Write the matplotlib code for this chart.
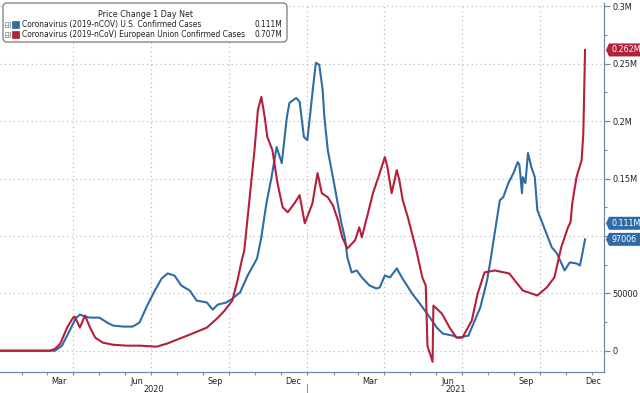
import matplotlib
matplotlib.use('Agg')
import matplotlib.pyplot as plt
import matplotlib.dates as mdates
from matplotlib.patches import FancyBboxPatch, Rectangle, Polygon
from matplotlib.lines import Line2D
from matplotlib.transforms import blended_transform_factory, IdentityTransform
from matplotlib import font_manager
from matplotlib.font_manager import FontProperties
import pandas as pd

# ---------------- data ----------------
us_dates = ["2020-01-05", "2020-03-11", "2020-03-19", "2020-03-28", "2020-04-04", "2020-04-09",
            "2020-04-15", "2020-04-21", "2020-05-02", "2020-05-11", "2020-05-18", "2020-05-30",
            "2020-06-10", "2020-06-18", "2020-06-27", "2020-07-06", "2020-07-14", "2020-07-21",
            "2020-07-29", "2020-08-06", "2020-08-16", "2020-08-24", "2020-09-05", "2020-09-12",
            "2020-09-18", "2020-09-28", "2020-10-05", "2020-10-14", "2020-10-23", "2020-11-03",
            "2020-11-08", "2020-11-14", "2020-11-20", "2020-11-26", "2020-12-02", "2020-12-08",
            "2020-12-11", "2020-12-19", "2020-12-23", "2020-12-28", "2021-01-01", "2021-01-04",
            "2021-01-07", "2021-01-11", "2021-01-15", "2021-01-19", "2021-01-21", "2021-01-25",
            "2021-01-31", "2021-02-05", "2021-02-10", "2021-02-14", "2021-02-17", "2021-02-22",
            "2021-02-28", "2021-03-06", "2021-03-15", "2021-03-23", "2021-03-27", "2021-04-02",
            "2021-04-08", "2021-04-16", "2021-04-22", "2021-05-04", "2021-05-13", "2021-05-25",
            "2021-06-02", "2021-06-09", "2021-06-21", "2021-06-27", "2021-07-09", "2021-07-15",
            "2021-07-23", "2021-07-31", "2021-08-04", "2021-08-10", "2021-08-15", "2021-08-19",
            "2021-08-25", "2021-08-31", "2021-09-05", "2021-09-07", "2021-09-10", "2021-09-11",
            "2021-09-14", "2021-09-17", "2021-09-21", "2021-09-25", "2021-09-28", "2021-10-04",
            "2021-10-15", "2021-10-21", "2021-10-30", "2021-11-05", "2021-11-13", "2021-11-17",
            "2021-11-19", "2021-11-23"]
us_cases = [0, 0, 4400, 17500, 28000, 31500,
            29700, 28800, 28800, 24500, 21900, 21000,
            21000, 24500, 39300, 52400, 62900, 67300,
            65500, 56800, 52400, 43700, 42000, 35800,
            40200, 42000, 45400, 50700, 65500, 80400,
            98800, 128500, 151200, 177400, 163400, 203600,
            215900, 220200, 216800, 186200, 183500, 203600,
            224600, 250800, 249100, 227200, 203600, 174800,
            151200, 131100, 111000, 98800, 81300, 68200,
            69900, 63800, 56800, 54200, 55100, 65500,
            63800, 71700, 63800, 49800, 41100, 28800,
            20100, 14900, 13100, 11400, 13100, 23600,
            37600, 61200, 78700, 107500, 131100, 133700,
            146000, 154700, 164300, 161700, 137200, 151200,
            146000, 172200, 159900, 151200, 122400, 111000,
            90000, 84800, 69900, 76900, 76000, 74300,
            81300, 97006]

eu_dates = ["2020-01-05", "2020-03-05", "2020-03-11", "2020-03-17", "2020-03-25", "2020-04-01",
            "2020-04-03", "2020-04-09", "2020-04-15", "2020-04-21", "2020-04-27", "2020-05-06",
            "2020-05-18", "2020-06-03", "2020-06-18", "2020-07-08", "2020-07-20", "2020-08-04",
            "2020-08-19", "2020-09-05", "2020-09-17", "2020-09-26", "2020-10-05", "2020-10-11",
            "2020-10-16", "2020-10-19", "2020-10-25", "2020-10-31", "2020-11-04", "2020-11-08",
            "2020-11-12", "2020-11-15", "2020-11-21", "2020-11-27", "2020-12-03", "2020-12-09",
            "2020-12-17", "2020-12-23", "2020-12-29", "2021-01-04", "2021-01-07", "2021-01-13",
            "2021-01-18", "2021-01-25", "2021-01-31", "2021-02-06", "2021-02-11", "2021-02-17",
            "2021-02-26", "2021-03-03", "2021-03-06", "2021-03-12", "2021-03-19", "2021-03-27",
            "2021-04-02", "2021-04-05", "2021-04-10", "2021-04-16", "2021-04-19", "2021-04-23",
            "2021-04-29", "2021-05-09", "2021-05-16", "2021-05-20", "2021-05-22", "2021-05-28",
            "2021-05-29", "2021-06-08", "2021-06-17", "2021-06-25", "2021-07-02", "2021-07-13",
            "2021-07-20", "2021-07-28", "2021-08-09", "2021-08-26", "2021-09-11", "2021-09-28",
            "2021-10-09", "2021-10-18", "2021-10-26", "2021-11-03", "2021-11-06", "2021-11-08",
            "2021-11-13", "2021-11-19", "2021-11-21", "2021-11-23"]
eu_cases = [0, 0, 1700, 6100, 20100, 28800,
            29700, 20100, 30600, 20100, 11400, 7000,
            5200, 4400, 4400, 3500, 6100, 10500,
            14900, 20100, 28000, 35000, 43700, 61200,
            78700, 87400, 131100, 174800, 209800, 221100,
            203600, 186200, 174800, 146000, 125000, 120600,
            128500, 135500, 111000, 122400, 128500, 154700,
            137200, 133700, 126700, 113600, 98800, 89100,
            96100, 107500, 98800, 116200, 137200, 154700,
            168700, 159900, 137200, 157300, 148600, 131100,
            116200, 87400, 63800, 56800, 4400, -9600,
            39300, 32300, 20100, 11400, 11400, 26200,
            49800, 68200, 69900, 67300, 52400, 48100,
            55100, 63800, 90000, 107500, 112000, 128500,
            151200, 166100, 189700, 262000]

legend_title = "Price Change 1 Day Net"
series_names = ["Coronavirus (2019-nCOV) U.S. Confirmed Cases",
                "Coronavirus (2019-nCoV) European Union Confirmed Cases"]
legend_values = ["0.111M", "0.707M"]
tag_texts = ["0.262M", "0.111M", "97006"]
tag_values = [262000, 111000, 97006]
y_ticks = [0, 50000, 100000, 150000, 200000, 250000, 300000]
y_tick_labels = ["0", "50000", "", "0.15M", "0.2M", "0.25M", "0.3M"]   # 0.1M hidden behind tags
month_labels = ["Mar", "Jun", "Sep", "Dec", "Mar", "Jun", "Sep", "Dec"]
month_label_dates = ["2020-03-15", "2020-06-15", "2020-09-15", "2020-12-15",
                     "2021-03-15", "2021-06-15", "2021-09-15", "2021-12-03"]
year_labels = ["2020", "2021"]

# ---------------- style ----------------
BLUE = "#2f6ba5"
RED = "#b3203a"
AXIS = "#6f8aa6"
GRID = "#b4b4b4"
TXT = "#222222"
FS = 6.4

# find a condensed / narrow font file if available
cond_path = None
for f in font_manager.fontManager.ttflist:
    fn = f.fname.lower()
    if ("condensed" in fn or "narrow" in fn) and "bold" not in fn and "oblique" not in fn \
            and "italic" not in fn and "light" not in fn and "semi" not in fn and "extra" not in fn:
        if cond_path is None or "dejavusanscondensed" in fn.replace("-", ""):
            cond_path = f.fname


def fp(size):
    if cond_path:
        return FontProperties(fname=cond_path, size=size)
    return FontProperties(family="DejaVu Sans", size=size * 0.85)


W, H = 640, 393
fig = plt.figure(figsize=(6.4, 3.93), dpi=100)
ax_l, ax_r, ax_t, ax_b = 0, 604, 3, 372
ax = fig.add_axes([ax_l / W, 1 - ax_b / H, (ax_r - ax_l) / W, (ax_b - ax_t) / H])

us_x = pd.to_datetime(us_dates)
eu_x = pd.to_datetime(eu_dates)
ax.plot(us_x, us_cases, color=BLUE, lw=1.5, zorder=3, solid_joinstyle='round')
ax.plot(eu_x, eu_cases, color=RED, lw=1.5, zorder=4, solid_joinstyle='round')

ax.set_xlim(pd.Timestamp("2020-01-06 06:00"), pd.Timestamp("2021-12-15 06:00"))
ax.set_ylim(-18550, 302900)

# grid
for v in y_ticks:
    ax.axhline(v, color=GRID, lw=0.8, ls=(0, (1, 3)), zorder=1)
for d in ["2020-04-01", "2020-07-01", "2020-10-01", "2021-01-01",
          "2021-04-01", "2021-07-01", "2021-10-01"]:
    ax.axvline(pd.Timestamp(d), color=GRID, lw=0.8, ls=(0, (1, 3)), zorder=1)

# spines
for s in ['left', 'top']:
    ax.spines[s].set_visible(False)
for s in ['right', 'bottom']:
    ax.spines[s].set_color(AXIS)
    ax.spines[s].set_linewidth(0.9)

# y axis on right
ax.yaxis.tick_right()
ax.set_yticks(y_ticks)
ax.set_yticklabels(y_tick_labels)
ax.yaxis.set_minor_locator(matplotlib.ticker.MultipleLocator(25000))
ax.tick_params(axis='y', which='major', direction='out', length=4, width=0.9,
               color=AXIS, labelcolor=TXT, pad=2)
ax.tick_params(axis='y', which='minor', direction='out', length=2, width=0.8, color=AXIS)
ax.tick_params(axis='y', left=False, labelleft=False)
for lab in ax.get_yticklabels():
    lab.set_fontproperties(fp(FS + 0.2))

# x axis
ax.xaxis.set_minor_locator(mdates.MonthLocator())
ax.set_xticks(pd.to_datetime(month_label_dates))
ax.set_xticklabels(month_labels)
ax.tick_params(axis='x', which='major', length=0, labelcolor=TXT, pad=3.5)
ax.tick_params(axis='x', which='minor', direction='out', length=2.5, width=0.8, color=AXIS)
for lab in ax.get_xticklabels():
    lab.set_fontproperties(fp(FS + 0.2))

# year labels and separator
trans = blended_transform_factory(ax.transData, fig.transFigure)
x0, x1 = ax.get_xlim()
sep = mdates.date2num(pd.Timestamp("2021-01-01"))
ax.text((x0 + sep) / 2, 1 - 389 / H, year_labels[0], transform=trans, ha='center', va='center',
        fontproperties=fp(FS + 0.2), color=TXT)
ax.text((sep + x1) / 2, 1 - 389 / H, year_labels[1], transform=trans, ha='center', va='center',
        fontproperties=fp(FS + 0.2), color=TXT)
ax.plot([sep, sep], [1 - 384 / H, 0], transform=trans, color="#999999", lw=0.8, clip_on=False)

ax.set_facecolor('white')

# last value tags (pixel coordinates for the box shape)
idt = IdentityTransform()
tag_colors = [RED, BLUE, BLUE]
for t, v, c in zip(tag_texts, tag_values, tag_colors):
    ydisp = ax.transData.transform((0, v))[1]
    pts = [(606, ydisp), (609, ydisp + 6.5), (641, ydisp + 6.5),
           (641, ydisp - 6.5), (609, ydisp - 6.5)]
    fig.patches.append(Polygon(pts, closed=True, transform=idt, fc=c, ec='none', zorder=9))
    fig.text(611 / W, ydisp / H, t, ha='left', va='center',
             fontproperties=fp(FS), color='white', zorder=10)

# legend box (pixel coordinates)


def px(x, y):
    return x, H - y


lb = FancyBboxPatch(px(3, 42), 284, 39, boxstyle='round,pad=0,rounding_size=4',
                    transform=idt, fc='white', ec='#888888', lw=1.0, zorder=20)
fig.patches.append(lb)
fig.text(146 / W, 1 - 14.5 / H, legend_title, ha='center', va='center',
         fontproperties=fp(FS), color=TXT, zorder=21)
for i, (name, val, c) in enumerate(zip(series_names, legend_values, [BLUE, RED])):
    yy = 24.5 + i * 10
    fig.patches.append(Rectangle(px(5, yy + 2.5), 5, 5, transform=idt, fc='white',
                                 ec='#999999', lw=0.6, zorder=21))
    fig.lines.append(Line2D([6, 9], [H - yy, H - yy], transform=idt, color='#888888',
                            lw=0.5, zorder=22))
    fig.lines.append(Line2D([7.5, 7.5], [H - yy - 1.5, H - yy + 1.5], transform=idt,
                            color='#888888', lw=0.5, zorder=22))
    fig.patches.append(Rectangle(px(12, yy + 3.5), 7, 7, transform=idt, fc=c, ec=c,
                                 lw=0.5, zorder=21))
    fig.text(22 / W, 1 - yy / H, name, ha='left', va='center',
             fontproperties=fp(6.0), color=TXT, zorder=21)
    fig.text(282 / W, 1 - yy / H, val, ha='right', va='center',
             fontproperties=fp(6.0), color=TXT, zorder=21)

fig.savefig("out.png", dpi=100, facecolor='white')
